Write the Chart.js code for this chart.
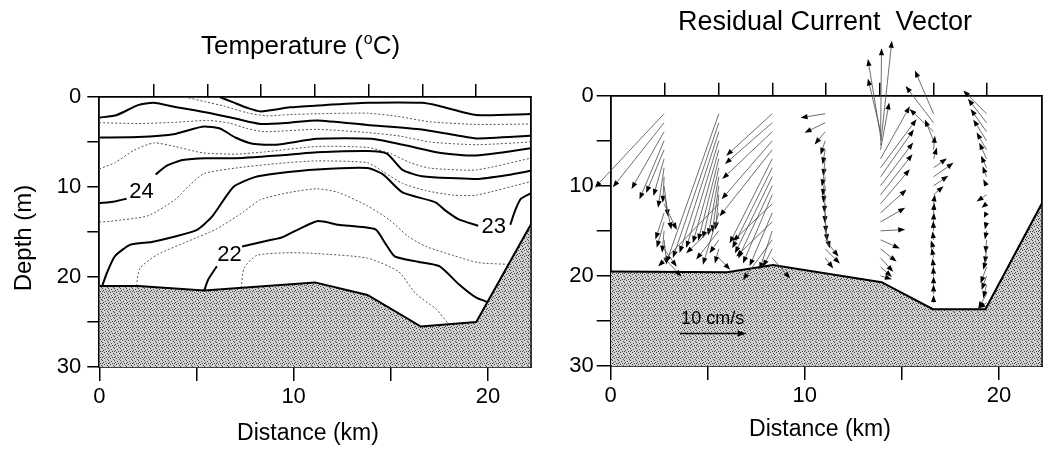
<!DOCTYPE html>
<html><head><meta charset="utf-8">
<script src="https://cdn.jsdelivr.net/npm/chart.js@4.4.1/dist/chart.umd.min.js"></script>
<style>
html,body{margin:0;padding:0;background:#fff;width:1049px;height:450px;overflow:hidden}
canvas{position:absolute;top:0}
#c1{left:0}
#c2{left:540px}
</style></head><body>
<canvas id="c1" width="540" height="450"></canvas>
<canvas id="c2" width="509" height="450"></canvas>
<script>
// ---------- axes ----------
const xMax = 22.2;
const depthMax = 30;
const xTicks = [0, 5, 10, 15, 20];
const xTickLabels = ['0', '', '10', '', '20'];
const yTicks = [0, 5, 10, 15, 20, 25, 30];
const yTickLabels = ['0', '', '10', '', '20', '', '30'];
const stationsKm = [2.78, 5.58, 8.33, 11.1, 13.87, 16.62, 19.35];

// ---------- bathymetry [km, depth m] ----------
const bathyLeft = [[0,21.0],[2.0,21.0],[5.4,21.5],[11.1,20.6],[13.8,22.0],[16.55,25.5],[19.4,25.0],[22.2,14.2]];
const bathyRight = [[0,19.5],[6.0,19.6],[8.35,18.8],[13.95,20.7],[16.6,23.7],[19.3,23.7],[22.2,12.0]];

// ---------- temperature contours [km, depth m] ----------
const c27 = [[6.2,0],[6.9,0.6],[7.6,1.2],[8.3,1.6],[9.8,1.15],[11.2,0.95],[13.8,0.65],[16.6,0.65],[17.5,1.0],[19.4,2.0],[22.2,1.9]];
const c26_5 = [[4.4,0],[5.5,0.55],[6.4,1.0],[7.6,1.75],[8.6,2.1],[9.8,1.95],[11.2,1.86],[13.8,1.8],[15.5,2.2],[17.0,2.75],[19.4,3.05],[22.2,3.0]];
const c26 = [[0,2.3],[0.9,2.0],[2.0,0.9],[2.8,0.65],[3.9,1.1],[5.6,1.75],[7.0,2.4],[8.3,3.0],[9.8,2.85],[11.2,2.6],[13.8,3.1],[16.6,3.6],[18.5,4.3],[19.4,4.6],[22.2,4.3]];
const c25_5 = [[0,2.85],[2,2.95],[4,2.8],[5.6,2.6],[6.7,2.9],[7.6,3.5],[8.5,3.85],[11.2,3.6],[13.8,3.95],[15.5,4.35],[17,5.0],[19.4,5.3],[22.2,5.0]];
const c25 = [[0,4.5],[2,4.45],[3.9,4.1],[5.3,3.3],[6.2,3.5],[7.0,4.5],[7.9,5.2],[9.1,5.3],[11.2,4.65],[14.0,4.65],[15.8,5.4],[17.5,6.2],[19.4,6.5],[22.2,5.7]];
const c24_5 = [[0,8.0],[0.8,7.3],[1.8,5.9],[2.8,5.1],[3.9,5.5],[5.3,6.2],[7.0,6.35],[8.5,6.1],[11.2,5.5],[13.8,5.6],[15.0,6.3],[16.0,7.3],[17.0,7.9],[19.4,8.1],[22.2,6.8]];
const c24a = [[0,11.8],[0.8,11.6],[1.4,11.3]];
const c24b = [[2.9,8.6],[3.5,7.6],[4.3,7.0],[5.5,6.8],[7.0,6.8],[9.8,6.4],[11.2,6.15],[13.8,6.0],[14.8,6.3],[15.6,8.1],[16.6,8.8],[19.4,9.1],[21.2,8.6],[22.2,8.2]];
const c23_5 = [[0,13.9],[0.6,13.8],[2.5,13.2],[3.9,11.4],[4.6,9.9],[5.4,8.5],[7.0,7.9],[9.1,7.4],[11.2,7.1],[13.8,7.3],[14.6,8.3],[15.6,9.6],[16.8,10.4],[18.2,10.9],[19.4,10.9],[22.2,9.4]];
const c23a = [[0.15,21.0],[0.4,19.5],[0.8,17.7],[1.6,16.4],[2.7,16.1],[3.9,15.5],[5.0,14.8],[5.8,13.3],[6.9,10.0],[8.0,8.9],[9.1,8.5],[11.2,8.05],[13.8,7.9],[14.6,8.6],[15.6,10.6],[17.3,11.7],[17.8,12.6],[18.5,13.6],[19.5,14.3]];
const c23b = [[21.15,14.2],[21.4,12.6],[21.7,11.3],[22.2,10.7]];
const c22_5 = [[1.9,21.0],[2.1,19.0],[3.0,17.5],[4.6,16.0],[6.0,14.7],[7.4,12.8],[8.3,11.4],[9.8,10.6],[11.2,10.2],[12.3,10.6],[13.8,12.1],[14.9,13.6],[15.9,15.5],[16.8,16.6],[18.2,17.6],[19.5,18.4],[21.1,18.6]];
const c22a = [[5.4,21.5],[5.6,20.3],[6.05,18.8]];
const c22b = [[7.35,16.6],[8.8,15.9],[9.4,15.6],[11.2,13.8],[12.3,14.2],[14.2,14.7],[14.7,16.2],[15.2,17.7],[16.4,18.3],[17.5,18.8],[18.5,20.8],[19.4,22.3],[20.0,22.8]];
const c21_5 = [[7.3,21.2],[7.45,19.0],[8.1,17.6],[9.8,17.3],[11.2,17.4],[13.8,17.9],[15.4,19.4],[16.3,21.9],[17.3,23.5],[18.0,25.3]];
const solidContours = [c27, c26, c25, c24a, c24b, c23a, c23b, c22a, c22b];
const dottedContours = [c26_5, c25_5, c24_5, c23_5, c22_5, c21_5];
const contourLabels = [['24', 2.17, 10.6], ['23', 20.3, 14.4], ['22', 6.7, 17.6]];

// ---------- residual current vectors: [depth m, u cm/s (east), v cm/s (up on page)] ----------
const vecStationsKm = [2.75, 5.57, 8.32, 11.05, 13.9, 16.63, 19.36];
const st1 = [[2,-10.4,-11.1],[3,-7.7,-9.7],[4,-4.9,-8.6],[5,-3.7,-8.8],[6,-2.7,-6.5],[7,-1.6,-5.6],[8,-0.9,-6.0],[9,-0.2,-3.9],[10,0.6,-4.6],[11,1.1,-5.2],[12,1.9,-3.9],[13,-1.3,-4.0],[14,-1.1,-3.9],[15,-0.3,-3.3],[16,0.4,-3.7],[17,1.9,-2.7],[18,2.6,-2.8]];
const st2 = [[2,-7.9,-22.4],[3,-6.9,-20.3],[4,-5.9,-18.2],[5,-4.9,-16.1],[6,-3.9,-14.0],[7,-3.1,-12.3],[8,-2.4,-10.6],[9,-1.6,-8.8],[10,-1.0,-7.0],[11,-0.5,-5.2],[12,-9.1,-9.4],[13,-2.4,-7.8],[14,-4.9,-4.7],[15,-3.4,-4.3],[16,-1.4,-2.0],[17,-0.6,-2.2],[18,1.7,-1.8]];
const st3 = [[2,-6.9,-6.3],[3,-7.1,-6.2],[4,-7.5,-7.1],[5,-7.6,-8.8],[6,-7.9,-10.0],[7,-6.4,-12.7],[8,-6.0,-12.1],[9,-5.6,-11.5],[10,-5.1,-10.9],[11,-4.4,-10.3],[12,-5.9,-5.6],[13,-3.4,-8.0],[14,-5.4,-5.2],[15,-1.9,-5.8],[16,-4.4,-6.0],[17,-1.4,-2.7],[18,2.7,-3.1]];
const st4 = [[2,-3.7,-0.6],[3,-3.1,-1.5],[4,-1.6,-1.9],[5,-0.7,-2.1],[6,-0.4,-2.2],[7,-0.3,-2.6],[8,-0.5,-2.8],[9,-0.4,-2.9],[10,-0.3,-2.6],[11,-0.15,-2.7],[12,-0.05,-2.9],[13,0.1,-3.0],[14,0.3,-2.9],[15,0.7,-2.6],[16,2.0,-2.5],[17,2.2,-2.2],[18,1.2,-1.6]];
const st5 = [[4,-1.9,8.0],[4.5,-1.9,11.6],[5,0.15,13.9],[5.5,1.7,15.7],[6,1.3,7.1],[7,4.4,7.9],[8,5.4,7.3],[9,5.0,7.1],[10,4.9,6.5],[11,4.8,6.1],[12,4.4,5.2],[13,3.9,3.5],[14,3.7,2.1],[15,3.7,0.2],[16,2.9,-1.3],[17,2.4,-1.9],[18,1.9,-2.1],[19,1.7,-1.5],[20,1.7,-0.5]];
const st6 = [[2,-2.8,6.5],[3,-4.2,5.5],[4,-3.6,3.4],[5,-1.3,3.2],[6,0.2,2.1],[7,0.5,1.7],[8,2.0,1.4],[9,3.0,2.1],[10,2.2,1.5],[11,1.5,1.3],[12,0.2,1.4],[13,0.1,1.5],[14,0.05,1.4],[15,-0.05,1.5],[16,-0.15,1.3],[17,-0.4,1.3],[18,-0.3,1.5],[19,-0.15,1.3],[20,-0.05,1.4],[21,0,1.3],[22,0,1.4],[23,0,1.2]];
const st7 = [[2,-3.5,3.5],[3,-2.8,3.6],[4,-2.4,3.4],[5,-2.0,3.2],[6,-1.5,2.6],[7,-1.1,2.4],[8,-0.85,1.8],[9,-0.6,1.6],[10,-0.5,1.0],[11,-1.5,-1.0],[12,-0.75,-0.6],[13,-0.4,-0.75],[14,-0.25,-1.15],[15,-0.25,-1.3],[16,-0.15,-2.0],[17,-0.25,-2.2],[18,-0.5,-1.8],[19,-0.9,-2.5],[20,-0.75,-2.1],[21,-0.5,-2.0],[22,-1.25,-2.2],[23,-1.25,-0.8]];
const stationVectors = [st1, st2, st3, st4, st5, st6, st7];
const refSpeed = 10;          // cm/s
const refArrowKm = 3.43;      // horizontal length of 10 cm/s
const refArrowTail = [3.57, 26.4];
const refLabel = ['10 cm/s', 5.25, 24.8];

// ---------- helpers ----------
const FONT = "'Liberation Sans', Arial, Helvetica, sans-serif";
const pts = a => a.map(p => ({x: p[0], y: p[1]}));

function stipple(ctx) {
  const c = document.createElement('canvas');
  c.width = 6; c.height = 6;
  const g = c.getContext('2d');
  g.fillStyle = '#d0d0d0'; g.fillRect(0, 0, 6, 6);
  g.fillStyle = '#454545';
  [[0,0],[3,1],[1,2],[4,3],[2,4],[5,5],[0,3]].forEach(([x,y]) => g.fillRect(x, y, 1, 1));
  return ctx.createPattern(c, 'repeat');
}

function drawArrow(ctx, x0, y0, x1, y1, color, lw, hl, hw) {
  const dx = x1 - x0, dy = y1 - y0, len = Math.hypot(dx, dy);
  if (len < 0.5) return;
  const ux = dx / len, uy = dy / len;
  const bx = x1 - ux * Math.min(hl, len), by = y1 - uy * Math.min(hl, len);
  ctx.strokeStyle = color; ctx.lineWidth = lw;
  ctx.beginPath(); ctx.moveTo(x0, y0); ctx.lineTo(bx, by); ctx.stroke();
  ctx.fillStyle = '#000';
  ctx.beginPath();
  ctx.moveTo(x1, y1);
  ctx.lineTo(bx - uy * hw, by + ux * hw);
  ctx.lineTo(bx + uy * hw, by - ux * hw);
  ctx.closePath(); ctx.fill();
}

function drawTexts(chart, items) {
  const ctx = chart.ctx, xs = chart.scales.x, ys = chart.scales.y;
  ctx.save();
  ctx.fillStyle = '#000';
  items.forEach(it => {
    let x = it.x, y = it.y;
    if (it.data) { x = xs.getPixelForValue(it.x); y = ys.getPixelForValue(it.y); }
    ctx.font = it.size + 'px ' + FONT;
    ctx.textAlign = it.align || 'center';
    ctx.textBaseline = it.baseline || 'alphabetic';
    if (it.rot) {
      ctx.save(); ctx.translate(x, y); ctx.rotate(it.rot); ctx.fillText(it.text, 0, 0); ctx.restore();
    } else {
      ctx.fillText(it.text, x, y);
    }
  });
  ctx.restore();
}

function makeScales(opt) {
  return {
    x: {
      type: 'linear', position: 'bottom', min: 0, max: xMax,
      afterBuildTicks: s => { s.ticks = xTicks.map(v => ({value: v})); },
      afterFit: s => { s.height = opt.xH; },
      ticks: { callback: (v, i) => xTickLabels[i], font: {family: FONT, size: 22}, color: '#000', padding: 3, maxRotation: 0, autoSkip: false },
      grid: { drawOnChartArea: false, drawTicks: true, tickLength: 14, color: '#000', lineWidth: 1.5 },
      border: { display: true, color: '#000', width: 1.8 }
    },
    xTop: {
      type: 'linear', position: 'top', min: 0, max: xMax,
      afterBuildTicks: s => { s.ticks = stationsKm.map(v => ({value: v})); },
      afterFit: s => { s.height = 15; },
      ticks: { callback: () => '', padding: 0, font: {size: 1} },
      grid: { drawOnChartArea: false, drawTicks: true, tickLength: 13, color: '#000', lineWidth: 1.5 },
      border: { display: true, color: '#000', width: 1.8 }
    },
    y: {
      type: 'linear', position: 'left', min: 0, max: depthMax, reverse: true,
      afterBuildTicks: s => { s.ticks = yTicks.map(v => ({value: v})); },
      afterFit: s => { s.width = opt.yW; },
      ticks: { callback: (v, i) => yTickLabels[i], font: {family: FONT, size: 22}, color: '#000', padding: opt.yPad },
      grid: { drawOnChartArea: false, drawTicks: true, tickLength: opt.yTick, color: '#000', lineWidth: 1.5 },
      border: { display: true, color: '#000', width: 1.8 }
    },
    yRight: {
      type: 'linear', position: 'right', min: 0, max: depthMax, reverse: true,
      afterFit: s => { s.width = 0; },
      ticks: { display: false },
      grid: { display: false },
      border: { display: true, color: '#000', width: 1.8 }
    }
  };
}

const baseOpts = {
  responsive: false, animation: false, devicePixelRatio: 1,
  plugins: { legend: {display: false}, tooltip: {enabled: false}, title: {display: false} },
  elements: { point: {radius: 0, hoverRadius: 0} },
  events: []
};

// ---------- left: temperature ----------
const ctx1 = document.getElementById('c1').getContext('2d');
const leftDatasets = [
  { data: pts(bathyLeft), showLine: true, fill: {value: depthMax}, backgroundColor: stipple(ctx1),
    borderColor: '#000', borderWidth: 2, pointRadius: 0, order: 0, tension: 0 }
];
solidContours.forEach(c => leftDatasets.push({ data: pts(c), showLine: true, borderColor: '#000', borderWidth: 2,
  pointRadius: 0, tension: 0.2, fill: false, order: 2 }));
dottedContours.forEach(c => leftDatasets.push({ data: pts(c), showLine: true, borderColor: '#555', borderWidth: 1,
  borderDash: [2, 2], pointRadius: 0, tension: 0.2, fill: false, order: 3 }));

new Chart(ctx1, {
  type: 'scatter',
  data: { datasets: leftDatasets },
  options: Object.assign({}, baseOpts, {
    layout: { padding: { left: 0, right: 9.3, top: 82, bottom: 0 } },
    scales: makeScales({ xH: 83, yW: 99.3, yPad: 6, yTick: 12 })
  }),
  plugins: [{
    id: 'leftText',
    afterDatasetsDraw(chart) {
      drawTexts(chart, contourLabels.map(l => ({ text: l[0], x: l[1], y: l[2], data: true, size: 22, baseline: 'middle' })));
    },
    afterDraw(chart) {
      const ctx = chart.ctx;
      ctx.save(); ctx.fillStyle = '#000'; ctx.textBaseline = 'alphabetic'; ctx.textAlign = 'left';
      ctx.font = '26px ' + FONT;
      let x = 201;
      const p1 = 'Temperature (';
      ctx.fillText(p1, x, 54); x += ctx.measureText(p1).width;
      ctx.font = '16px ' + FONT; ctx.fillText('o', x + 1, 44); x += ctx.measureText('o').width + 1;
      ctx.font = '26px ' + FONT; ctx.fillText('C)', x, 54);
      ctx.restore();
      drawTexts(chart, [
        { text: 'Depth (m)', x: 24, y: 238, size: 24, baseline: 'middle', rot: -Math.PI / 2 },
        { text: 'Distance (km)', x: 308, y: 440, size: 23 }
      ]);
    }
  }]
});

// ---------- right: residual current vectors ----------
const ctx2 = document.getElementById('c2').getContext('2d');
new Chart(ctx2, {
  type: 'scatter',
  data: { datasets: [
    { data: pts(bathyRight), showLine: true, fill: {value: depthMax}, backgroundColor: stipple(ctx2),
      borderColor: '#000', borderWidth: 2, pointRadius: 0, order: 0, tension: 0 }
  ] },
  options: Object.assign({}, baseOpts, {
    layout: { padding: { left: 0, right: 7.3, top: 80.7, bottom: 0 } },
    scales: makeScales({ xH: 84, yW: 70.7, yPad: 3, yTick: 14 })
  }),
  plugins: [{
    id: 'vectors',
    afterDatasetsDraw(chart) {
      const xs = chart.scales.x, ys = chart.scales.y, ctx = chart.ctx;
      const L = (xs.getPixelForValue(refArrowKm) - xs.getPixelForValue(0)) / refSpeed;
      ctx.save();
      stationVectors.forEach((list, i) => {
        const x0 = xs.getPixelForValue(vecStationsKm[i]);
        list.forEach(([d, u, v]) => {
          const y0 = ys.getPixelForValue(d);
          drawArrow(ctx, x0, y0, x0 + u * L, y0 - v * L, '#555', 0.85, 7, 2.6);
        });
      });
      const rx = xs.getPixelForValue(refArrowTail[0]), ry = ys.getPixelForValue(refArrowTail[1]);
      drawArrow(ctx, rx, ry, rx + refSpeed * L, ry, '#000', 1.6, 9, 3);
      ctx.restore();
      drawTexts(chart, [{ text: refLabel[0], x: refLabel[1], y: refLabel[2], data: true, size: 18, baseline: 'middle' }]);
    },
    afterDraw(chart) {
      drawTexts(chart, [
        { text: 'Residual Current  Vector', x: 285, y: 30, size: 27 },
        { text: 'Distance (km)', x: 280, y: 436, size: 23 }
      ]);
    }
  }]
});
</script></body></html>
